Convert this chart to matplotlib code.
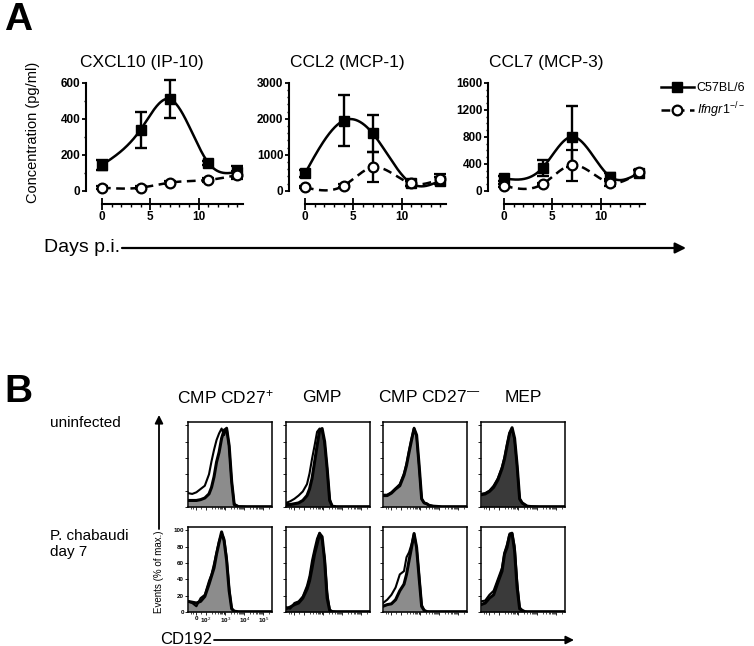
import numpy as np
import matplotlib
matplotlib.use("Agg")
import matplotlib.pyplot as plt
from matplotlib.lines import Line2D

plt.rcParams['font.family'] = ['Liberation Sans', 'DejaVu Sans']
plt.rcParams['mathtext.fontset'] = 'custom'
plt.rcParams['mathtext.rm'] = 'Liberation Sans'
plt.rcParams['mathtext.it'] = 'Liberation Sans:italic'
plt.rcParams['mathtext.bf'] = 'Liberation Sans:bold'

W, H = 754, 646

# ---- panel A: cytokine concentrations (pg/ml) ----
days = [0, 4, 7, 11, 14]

cxcl10_wt = [143, 340, 510, 156, 105]
cxcl10_wt_err = [28, 100, 105, 12, 35]
cxcl10_ko = [17, 17, 45, 60, 87]
cxcl10_ko_err = [8, 8, 10, 10, 20]

ccl2_wt = [480, 1950, 1600, 204, 280]
ccl2_wt_err = [110, 700, 510, 80, 100]
ccl2_ko = [93, 139, 650, 204, 325]
ccl2_ko_err = [30, 40, 420, 60, 150]

ccl7_wt = [183, 340, 800, 207, 267]
ccl7_wt_err = [40, 120, 450, 60, 40]
ccl7_ko = [74, 99, 380, 119, 272]
ccl7_ko_err = [20, 20, 230, 50, 40]

titles_a = ['CXCL10 (IP-10)', 'CCL2 (MCP-1)', 'CCL7 (MCP-3)']
yticks_a = [[0, 200, 400, 600], [0, 1000, 2000, 3000], [0, 400, 800, 1200, 1600]]
yminor_a = [100, 200, 100]

# ---- panel B: CD192 histograms (% of max) ----
channel = [0, .05, .1, .15, .2, .25, .28, .31, .34, .37, .40, .43, .46, .49, .52, .55, .6, .7, .8, .9, 1.0]

cmp27p_uninf_fill = [8, 8, 8, 9, 11, 16, 24, 37, 55, 67, 84, 94, 96, 75, 31, 3, 0.5, 0.3, 0.3, 0.3, 0.3]
cmp27p_uninf_open = [17, 16, 18, 22, 26, 40, 56, 70, 82, 90, 96, 88, 97, 74, 31, 4, 0.5, 0.3, 0.3, 0.3, 0.3]
gmp_uninf_fill = [3, 3, 4, 5, 8, 14, 22, 35, 55, 75, 94, 96, 80, 47, 8, 1, 0.3, 0.3, 0.3, 0.3, 0.3]
gmp_uninf_open = [5, 7, 10, 14, 19, 28, 41, 59, 75, 92, 96, 94, 78, 47, 10, 1, 0.3, 0.3, 0.3, 0.3, 0.3]
cmp27n_uninf_fill = [14, 14, 17, 22, 26, 39, 51, 67, 82, 96, 88, 51, 10, 5, 4, 2, 1, 0.3, 0.3, 0.3, 0.3]
cmp27n_uninf_open = [15, 15, 18, 23, 28, 41, 53, 69, 84, 97, 86, 50, 10, 5, 4, 2, 1, 0.3, 0.3, 0.3, 0.3]
mep_uninf_fill = [15, 16, 19, 24, 33, 47, 59, 75, 90, 97, 84, 51, 10, 5, 3, 1, 0.5, 0.3, 0.3, 0.3, 0.3]
mep_uninf_open = [16, 17, 20, 26, 35, 49, 61, 77, 91, 96, 82, 50, 10, 5, 3, 1, 0.5, 0.3, 0.3, 0.3, 0.3]

cmp27p_d7_fill = [13, 12, 11, 13, 19, 34, 44, 54, 71, 85, 98, 87, 63, 26, 4, 1, 0.3, 0.3, 0.3, 0.3, 0.3]
cmp27p_d7_open = [13, 11, 7, 17, 21, 38, 46, 59, 73, 87, 96, 90, 67, 30, 4, 1, 0.3, 0.3, 0.3, 0.3, 0.3]
gmp_d7_fill = [4, 6, 9, 11, 17, 28, 38, 54, 71, 83, 96, 92, 63, 17, 2, 0.5, 0.3, 0.3, 0.3, 0.3, 0.3]
gmp_d7_open = [6, 4, 11, 13, 19, 32, 44, 63, 77, 90, 97, 87, 67, 24, 3, 0.5, 0.3, 0.3, 0.3, 0.3, 0.3]
cmp27n_d7_fill = [7, 9, 10, 15, 26, 34, 46, 63, 79, 96, 79, 42, 7, 2, 0.5, 0.3, 0.3, 0.3, 0.3, 0.3, 0.3]
cmp27n_d7_open = [11, 15, 21, 30, 46, 50, 67, 73, 83, 96, 79, 46, 9, 2, 0.5, 0.3, 0.3, 0.3, 0.3, 0.3, 0.3]
mep_d7_fill = [9, 11, 17, 21, 36, 50, 71, 79, 94, 96, 75, 30, 4, 2, 0.5, 0.3, 0.3, 0.3, 0.3, 0.3, 0.3]
mep_d7_open = [13, 14, 21, 26, 40, 54, 73, 83, 96, 97, 81, 38, 6, 2, 0.5, 0.3, 0.3, 0.3, 0.3, 0.3, 0.3]

col_titles = ['CMP CD27$^{+}$', 'GMP', 'CMP CD27$^{\u2014}$', 'MEP']
fill_colors = ['#8c8c8c', '#3a3a3a', '#8c8c8c', '#3a3a3a']
decade_pos = [0.10, 0.215, 0.445, 0.67, 0.895]
decade_labels = ['0', '10$^2$', '10$^3$', '10$^4$', '10$^5$']


def natural_spline(x, y, xs):
    x = np.asarray(x, float)
    y = np.asarray(y, float)
    n = len(x)
    h = np.diff(x)
    A = np.zeros((n, n))
    b = np.zeros(n)
    A[0, 0] = A[-1, -1] = 1
    for i in range(1, n - 1):
        A[i, i - 1] = h[i - 1]
        A[i, i] = 2 * (h[i - 1] + h[i])
        A[i, i + 1] = h[i]
        b[i] = 6 * ((y[i + 1] - y[i]) / h[i] - (y[i] - y[i - 1]) / h[i - 1])
    M = np.linalg.solve(A, b)
    idx = np.clip(np.searchsorted(x, xs) - 1, 0, n - 2)
    x0, x1 = x[idx], x[idx + 1]
    hh = x1 - x0
    t0, t1 = x1 - xs, xs - x0
    return ((M[idx] * t0 ** 3 + M[idx + 1] * t1 ** 3) / (6 * hh)
            + (y[idx] / hh - M[idx] * hh / 6) * t0
            + (y[idx + 1] / hh - M[idx + 1] * hh / 6) * t1)


def px_axes(x0, y0, x1, y1):
    return fig.add_axes([x0 / W, 1 - y1 / H, (x1 - x0) / W, (y1 - y0) / H])


fig = plt.figure(figsize=(W / 100, H / 100), dpi=100)
bg = fig.add_axes([0, 0, 1, 1])
bg.set_xlim(0, W)
bg.set_ylim(H, 0)
bg.axis('off')

# ---- panel A ----
series = [(cxcl10_wt, cxcl10_wt_err, cxcl10_ko, cxcl10_ko_err),
          (ccl2_wt, ccl2_wt_err, ccl2_ko, ccl2_ko_err),
          (ccl7_wt, ccl7_wt_err, ccl7_ko, ccl7_ko_err)]
lefts = [86, 289, 488]
title_x = [80, 290, 489]
xs = np.linspace(0, 14, 300)
dash = (0, (3.5, 2.2))

for k, (wt, wt_err, ko, ko_err) in enumerate(series):
    ax = px_axes(lefts[k], 75, lefts[k] + 157, 204)
    top = yticks_a[k][-1]
    ax.set_xlim(-1.65, 14.6)
    ax.set_ylim(-0.123 * top, 1.073 * top)
    ax.patch.set_alpha(0)
    for s in ['top', 'right']:
        ax.spines[s].set_visible(False)
    ax.spines['left'].set_bounds(0, top)
    ax.spines['bottom'].set_bounds(0, 14.6)
    ax.spines['left'].set_linewidth(1.5)
    ax.spines['bottom'].set_linewidth(1.5)
    ax.set_yticks(yticks_a[k])
    ax.set_yticks(np.arange(0, top + 1, yminor_a[k]), minor=True)
    ax.set_xticks([0, 5, 10])
    ax.set_xticks(range(0, 15), minor=True)
    ax.tick_params(axis='y', which='major', length=3, width=1.3, pad=1, labelsize=8.5)
    ax.tick_params(axis='y', which='minor', length=1.6, width=1.0)
    ax.tick_params(axis='x', which='major', direction='inout', length=8.5, width=1.3, pad=1, labelsize=8.5)
    ax.tick_params(axis='x', which='minor', direction='out', length=2.5, width=1.0)
    for lab in ax.get_xticklabels() + ax.get_yticklabels():
        lab.set_fontweight('bold')

    ax.plot(xs, natural_spline(days, wt, xs), color='black', lw=1.8, zorder=2)
    ax.errorbar(days, wt, yerr=wt_err, fmt='s', color='black', ms=6.5,
                elinewidth=1.7, capsize=4.5, capthick=1.7, zorder=3)
    ax.plot(xs, natural_spline(days, ko, xs), color='black', lw=1.8, ls=dash, zorder=4)
    ax.errorbar(days, ko, yerr=ko_err, fmt='o', mfc='white', mec='black', mew=1.6,
                ms=7, ecolor='black', elinewidth=1.7, capsize=4.5, capthick=1.7, zorder=5)

    bg.text(title_x[k], 62, titles_a[k], fontsize=12.5, ha='left', va='center')

handles = [Line2D([], [], color='black', lw=1.8, marker='s', ms=6.5),
           Line2D([], [], color='black', lw=1.8, ls=dash, marker='o', ms=7,
                  mfc='white', mec='black', mew=1.6)]
fig.legend(handles, ['C57BL/6', r'$\mathit{Ifngr1}^{\mathit{-/-}}$'], loc='upper left',
           bbox_to_anchor=(661 / W, 1 - 82 / H), bbox_transform=fig.transFigure,
           frameon=False, fontsize=9, handlelength=2.6, handletextpad=0.25,
           labelspacing=0.5, borderpad=0, borderaxespad=0)

bg.text(33, 132, 'Concentration (pg/ml)', rotation=90, fontsize=10.5, ha='center', va='center')
bg.text(4, 20, 'A', fontsize=28, fontweight='bold', ha='left', va='center')
bg.text(120, 248, 'Days p.i.', fontsize=14, ha='right', va='center')
bg.annotate('', xy=(686, 248), xytext=(122, 248),
            arrowprops=dict(arrowstyle='-|>', lw=1.6, color='black',
                            mutation_scale=16, shrinkA=0, shrinkB=0))

# ---- panel B ----
hist_rows = [[(cmp27p_uninf_fill, cmp27p_uninf_open), (gmp_uninf_fill, gmp_uninf_open),
              (cmp27n_uninf_fill, cmp27n_uninf_open), (mep_uninf_fill, mep_uninf_open)],
             [(cmp27p_d7_fill, cmp27p_d7_open), (gmp_d7_fill, gmp_d7_open),
              (cmp27n_d7_fill, cmp27n_d7_open), (mep_d7_fill, mep_d7_open)]]
col_x = [188, 286, 383, 481]
row_y = [422, 527]
minor_pos = []
for lo, hi in zip(decade_pos[1:-1], decade_pos[2:]):
    minor_pos += [lo + (hi - lo) * np.log10(m) for m in range(2, 10)]
minor_pos += [0.03, 0.06, 0.16, 0.96]

for r in range(2):
    for c in range(4):
        fill_y, open_y = hist_rows[r][c]
        ax = px_axes(col_x[c], row_y[r], col_x[c] + 84, row_y[r] + 85)
        ax.set_xlim(0, 1)
        ax.set_ylim(0, 104)
        ax.fill_between(channel, 0, fill_y, color=fill_colors[c], lw=0, zorder=1)
        ax.plot(channel, fill_y, color='black', lw=2.2, zorder=2)
        ax.plot(channel, open_y, color='black', lw=1.5, zorder=3)
        for s in ax.spines.values():
            s.set_linewidth(1.1)
        ax.set_yticks([0, 20, 40, 60, 80, 100])
        ax.set_xticks(decade_pos)
        ax.set_xticks(minor_pos, minor=True)
        ax.tick_params(which='major', length=2, width=0.6, pad=1, labelsize=4.5)
        ax.tick_params(which='minor', length=1.2, width=0.5)
        if r == 1 and c == 0:
            ax.set_yticklabels(['0', '20', '40', '60', '80', '100'], fontweight='bold')
            ax.set_xticklabels(decade_labels, fontweight='bold')
        else:
            ax.set_yticklabels([])
            ax.set_xticklabels([])

title_left = [177, 302, 378, 505]
for c in range(4):
    bg.text(title_left[c], 397, col_titles[c], fontsize=12.5, ha='left', va='center')

bg.text(50, 423, 'uninfected', fontsize=11, ha='left', va='center')
bg.text(50, 544, 'P. chabaudi\nday 7', fontsize=11, ha='left', va='center', linespacing=1.15)
bg.text(4, 392, 'B', fontsize=28, fontweight='bold', ha='left', va='center')

bg.text(159, 572, 'Events (% of max.)', rotation=90, fontsize=7, ha='center', va='center')
bg.annotate('', xy=(159, 415), xytext=(159, 529),
            arrowprops=dict(arrowstyle='-|>', lw=1.3, color='black',
                            mutation_scale=12, shrinkA=0, shrinkB=0))
bg.text(212, 640, 'CD192', fontsize=12, ha='right', va='center')
bg.annotate('', xy=(574, 640), xytext=(214, 640),
            arrowprops=dict(arrowstyle='-|>', lw=1.3, color='black',
                            mutation_scale=12, shrinkA=0, shrinkB=0))

fig.savefig('out.png', dpi=100)
